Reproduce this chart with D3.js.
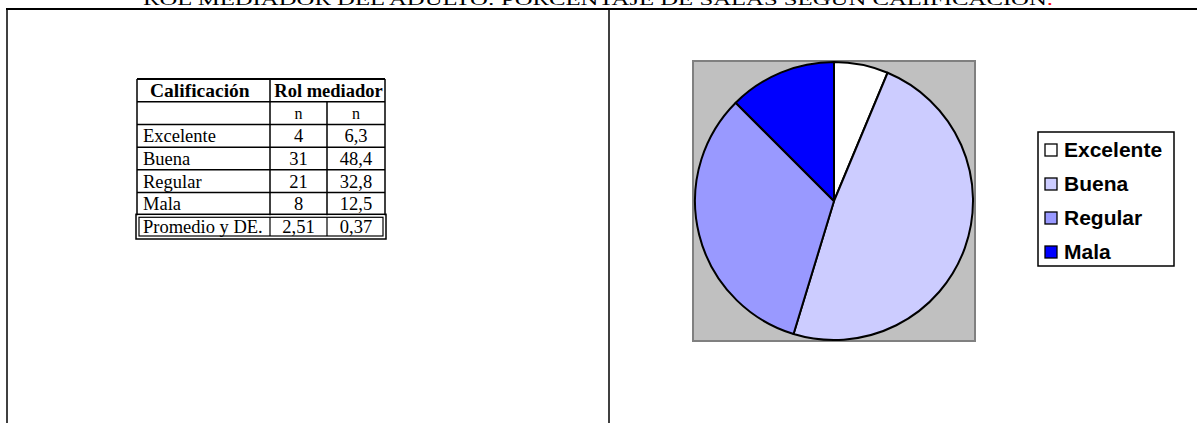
<!DOCTYPE html>
<html><head><meta charset="utf-8">
<script src="https://cdn.jsdelivr.net/npm/d3@7"></script>
<style>body{margin:0;background:#fff}svg{display:block}</style>
</head><body>
<svg id="c" width="1197" height="423"></svg>
<script>
const titleText = "ROL MEDIADOR DEL ADULTO: PORCENTAJE DE SALAS SEGÚN CALIFICACIÓN";
const categories = ["Excelente", "Buena", "Regular", "Mala"];
const counts = [4, 31, 21, 8];
const percents = [6.3, 48.4, 32.8, 12.5];
const colors = ["#FFFFFF", "#CCCCFF", "#9999FF", "#0000FF"];
const headerLabels = ["Calificación", "Rol mediador"];
const subHeaders = ["", "n", "n"];
const summaryLabel = "Promedio y DE.";
const summaryValues = [2.51, 0.37];

const loc = d3.formatLocale({decimal: ",", thousands: ".", grouping: [3], currency: ["", ""]});
const f1 = loc.format(".1f"), f2 = loc.format(".2f");

const svg = d3.select("#c");
const serif = "'Liberation Serif','Times New Roman',serif";
const sans = "'Liberation Sans',Arial,sans-serif";

// Title (clipped at top)
const t = svg.append("text").attr("x", 143).attr("y", 5)
  .attr("font-family", serif).attr("font-size", 17)
  .attr("textLength", 910).attr("lengthAdjust", "spacingAndGlyphs");
t.append("tspan").text(titleText);
t.append("tspan").attr("fill", "#ff0000").text(".");

// Frame
svg.append("line").attr("x1", 6).attr("x2", 1197).attr("y1", 9).attr("y2", 9).attr("stroke", "#000").attr("stroke-width", 2);
svg.append("line").attr("x1", 7).attr("x2", 7).attr("y1", 8).attr("y2", 423).attr("stroke", "#000").attr("stroke-width", 1.5);
svg.append("line").attr("x1", 609).attr("x2", 609).attr("y1", 8).attr("y2", 423).attr("stroke", "#000").attr("stroke-width", 1.5);

// Table
const tx = d3.scaleOrdinal().domain([0, 1, 2, 3]).range([137, 270, 327, 385]);
const rowsData = categories.map((c, i) => [c, String(counts[i]), f1(percents[i])]);
const nRows = 2 + rowsData.length + 1;
const ty = d3.scaleLinear().domain([0, nRows]).range([79, 238]);
const tbl = svg.append("g");
const fs = 18.5;
// header
tbl.append("text").attr("x", tx(0) + 13).attr("y", ty(0.5) + 7).attr("font-family", serif).attr("font-weight", "bold").attr("font-size", 19.5).text(headerLabels[0]);
tbl.append("text").attr("x", (tx(1) + tx(3)) / 2 + 1).attr("y", ty(0.5) + 7).attr("text-anchor", "middle").attr("font-family", serif).attr("font-weight", "bold").attr("font-size", 18.5).text(headerLabels[1]);
subHeaders.forEach((s, j) => {
  if (!s) return;
  tbl.append("text").attr("x", (tx(j) + tx(j + 1)) / 2).attr("y", ty(1.5) + 5.5).attr("text-anchor", "middle").attr("font-family", serif).attr("font-size", 16).text(s);
});
rowsData.forEach((r, i) => {
  const y = ty(2 + i + 0.5) + 6.5;
  tbl.append("text").attr("x", tx(0) + 6).attr("y", y).attr("font-family", serif).attr("font-size", fs).text(r[0]);
  [1, 2].forEach(j => tbl.append("text").attr("x", (tx(j) + tx(j + 1)) / 2).attr("y", y).attr("text-anchor", "middle").attr("font-family", serif).attr("font-size", fs).text(r[j]));
});
{
  const y = ty(nRows - 0.5) + 6.5;
  tbl.append("text").attr("x", tx(0) + 6).attr("y", y).attr("font-family", serif).attr("font-size", fs).text(summaryLabel);
  summaryValues.forEach((v, k) => tbl.append("text").attr("x", (tx(k + 1) + tx(k + 2)) / 2).attr("y", y).attr("text-anchor", "middle").attr("font-family", serif).attr("font-size", fs).text(f2(v)));
}
// grid lines
const L = (x1, y1, x2, y2, w) => tbl.append("line").attr("x1", x1).attr("y1", y1).attr("x2", x2).attr("y2", y2).attr("stroke", "#000").attr("stroke-width", w || 1.5);
L(tx(0), ty(0), tx(3), ty(0), 2);
L(tx(0), ty(0), tx(0), ty(nRows - 1));
L(tx(3), ty(0), tx(3), ty(nRows - 1));
for (let r = 1; r < nRows - 1; r++) L(tx(0), ty(r), tx(3), ty(r));
L(tx(1), ty(0), tx(1), ty(nRows - 1));
L(tx(2), ty(1), tx(2), ty(nRows - 1));
// double-bordered summary row
const sy0 = ty(nRows - 1), sy1 = ty(nRows);
tbl.append("rect").attr("x", tx(0) - 1).attr("y", sy0 - 1).attr("width", tx(3) - tx(0) + 2).attr("height", sy1 - sy0 + 2).attr("fill", "none").attr("stroke", "#000").attr("stroke-width", 1.5);
tbl.append("rect").attr("x", tx(0) + 2).attr("y", sy0 + 2).attr("width", tx(3) - tx(0) - 4).attr("height", sy1 - sy0 - 4).attr("fill", "none").attr("stroke", "#000").attr("stroke-width", 1.2);
L(tx(1), sy0 + 2, tx(1), sy1 - 2, 1.2);
L(tx(2), sy0 + 2, tx(2), sy1 - 2, 1.2);

// Pie
const box = {x: 693, y: 61, w: 282, h: 280};
svg.append("rect").attr("x", box.x).attr("y", box.y).attr("width", box.w).attr("height", box.h).attr("fill", "#C0C0C0").attr("stroke", "#808080").attr("stroke-width", 2);
const cx = box.x + box.w / 2, cy = box.y + box.h / 2, R = 139;
const pie = d3.pie().sort(null).value(d => d)(percents);
const arc = d3.arc().innerRadius(0).outerRadius(R);
svg.append("g").attr("transform", `translate(${cx},${cy})`).selectAll("path").data(pie).join("path")
  .attr("d", arc).attr("fill", (d, i) => colors[i]).attr("stroke", "#000").attr("stroke-width", 2).attr("stroke-linejoin", "round");

// Legend
const lg = svg.append("g");
lg.append("rect").attr("x", 1038).attr("y", 132).attr("width", 136).attr("height", 134).attr("fill", "#fff").attr("stroke", "#000").attr("stroke-width", 1.5);
const ly = d3.scalePoint().domain(categories).range([150, 252]);
categories.forEach((c, i) => {
  lg.append("rect").attr("x", 1045).attr("y", ly(c) - 6).attr("width", 12).attr("height", 12).attr("fill", colors[i]).attr("stroke", "#000").attr("stroke-width", 1.3);
  lg.append("text").attr("x", 1064).attr("y", ly(c) + 7).attr("font-family", sans).attr("font-weight", "bold").attr("font-size", 21).text(c);
});
</script>
</body></html>
